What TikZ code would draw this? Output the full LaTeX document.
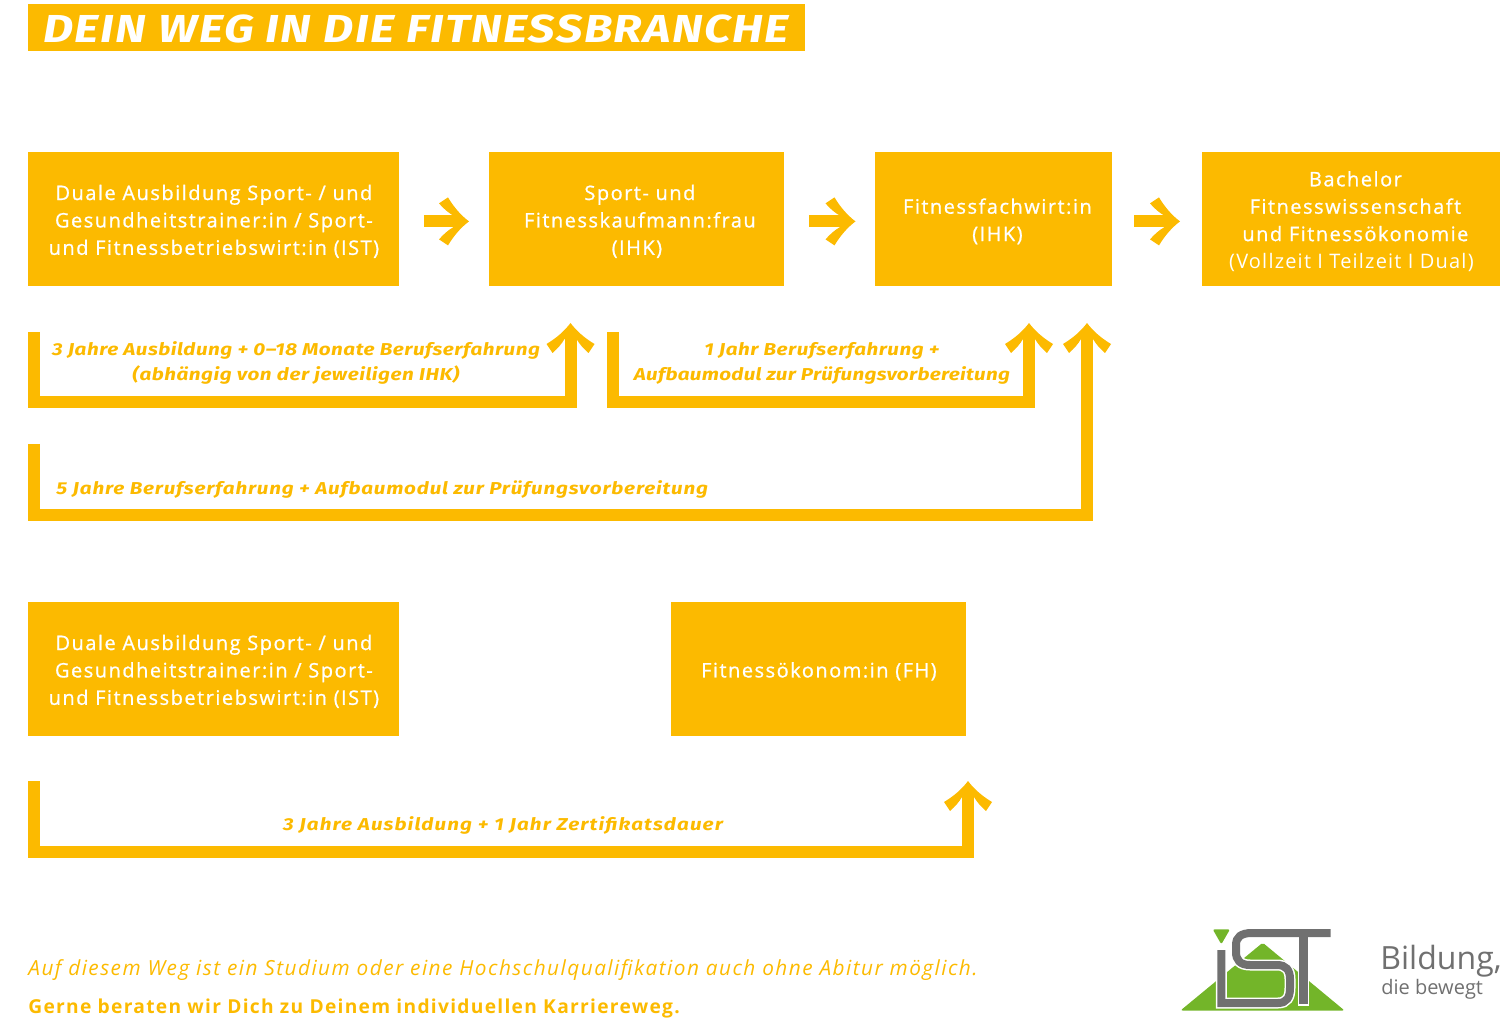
\documentclass[tikz,border=0pt]{standalone}
\usepackage{fontspec}
\setmainfont{Open Sans}
\newfontfamily\wegfont[LetterSpace=7.5,FakeBold=0.9]{Open Sans}
\newfontfamily\wegplain[LetterSpace=6]{Open Sans}
\newfontfamily\notefont[LetterSpace=7]{Open Sans}
\newfontfamily\gernefont[LetterSpace=6.7]{Open Sans}
\newfontfamily\titlefont[LetterSpace=3,FakeStretch=1.2]{Fira Sans}
\newfontfamily\headfont[LetterSpace=3.8,FakeStretch=1.2]{Fira Sans}
\newcommand{\wegtop}{\rule{0pt}{9.6pt}}
\newcommand{\labelfont}{\titlefont\bfseries\itshape\fontsize{8.6}{12.5}\selectfont}
\usetikzlibrary{arrows.meta,calc}
\definecolor{wegYellow}{RGB}{252,186,0}
\definecolor{logoGreen}{RGB}{115,181,41}
\definecolor{logoGray}{RGB}{112,112,112}
\pgfdeclarearrow{
  name=WegTip,
  setup code={
    \pgfarrowssettipend{0pt}
    \pgfarrowssetlineend{-7pt}
    \pgfarrowssetvisualbackend{-7pt}
    \pgfarrowssetbackend{-15pt}
    \pgfarrowssavethe{\pgflinewidth}
  },
  drawing code={
    \pgfpathmoveto{\pgfpoint{0pt}{0pt}}
    \pgfpathquadraticcurveto{\pgfpoint{-6pt}{4.5pt}}{\pgfpoint{-10.5pt}{12pt}}
    \pgfpathlineto{\pgfpoint{-15pt}{9pt}}
    \pgfpathquadraticcurveto{\pgfpoint{-11.5pt}{5pt}}{\pgfpoint{-8pt}{3pt}}
    \pgfpathlineto{\pgfpoint{-8pt}{-3pt}}
    \pgfpathquadraticcurveto{\pgfpoint{-11.5pt}{-5pt}}{\pgfpoint{-15pt}{-9pt}}
    \pgfpathlineto{\pgfpoint{-10.5pt}{-12pt}}
    \pgfpathquadraticcurveto{\pgfpoint{-6pt}{-4.5pt}}{\pgfpoint{0pt}{0pt}}
    \pgfpathclose
    \pgfusepathqfill
  },
  defaults={}
}
\begin{document}
\begin{tikzpicture}[x=0.5pt,y=-0.5pt]
%styles
\tikzset{
  wegbox/.style={rectangle, fill=wegYellow, text=white, font=\wegfont\fontsize{10}{13.7}\selectfont, align=center, inner sep=0pt, minimum height=67pt},
  wegline/.style={draw=wegYellow, line width=6pt, miter limit=10, -{WegTip}},
  weglabel/.style={text=wegYellow, font=\labelfont, align=center, inner sep=0pt},
  notetext/.style={text=wegYellow, anchor=base west, inner sep=0pt},
  logostroke/.style={draw=logoGray, line width=4pt}
}
\useasboundingbox (0,0) rectangle (1500,1021);
%title
\node[fill=wegYellow, text=white, anchor=north west, minimum width=388.5pt, minimum height=23.5pt, inner sep=0pt] (title) at (28,4) {};
\node[text=white, anchor=base west, inner sep=0pt, font=\headfont\bfseries\itshape\fontsize{19.5}{20}\selectfont] (titleText) at (43,43) {DEIN WEG IN DIE FITNESSBRANCHE};
%boxes
\node[wegbox, minimum width=185.5pt, anchor=north west] (ausbildung) at (28,152) {\wegtop Duale Ausbildung Sport- / und\\Gesundheitstrainer:in / Sport-\\und Fitnessbetriebswirt:in (IST)};
\node[wegbox, minimum width=147.5pt, anchor=north west] (kaufmann) at (489,152) {\wegtop\hspace*{3pt}Sport- und\\\hspace*{3pt}Fitnesskaufmann:frau\\(IHK)};
\node[wegbox, minimum width=118.5pt, anchor=north west] (fachwirt) at (874.5,152) {\wegtop\hspace*{4pt}Fitnessfachwirt:in\\\hspace*{4pt}(IHK)};
\node[wegbox, minimum width=149pt, anchor=north west] (bachelor) at (1202,152) {\wegtop\hspace*{4pt}Bachelor\\\hspace*{4pt}Fitnesswissenschaft\\\hspace*{4pt}und Fitnessökonomie\\{\wegplain (Vollzeit I Teilzeit I Dual)}};
\node[wegbox, minimum width=185.5pt, anchor=north west] (ausbildungB) at (28,602) {\wegtop Duale Ausbildung Sport- / und\\Gesundheitstrainer:in / Sport-\\und Fitnessbetriebswirt:in (IST)};
\node[wegbox, minimum width=147.5pt, anchor=north west] (oekonom) at (671,602) {\wegtop Fitnessökonom:in (FH)};
%arrows between boxes
\draw[wegline, shorten <=12pt, shorten >=10pt] ([yshift=-1pt]ausbildung.east) -- ([yshift=-1pt]kaufmann.west);
\draw[wegline, shorten <=12pt, shorten >=9.5pt] ([yshift=-1pt]kaufmann.east) -- ([yshift=-1pt]fachwirt.west);
\draw[wegline, shorten <=11pt, shorten >=11pt] ([yshift=-1pt]fachwirt.east) -- ([yshift=-1pt]bachelor.west);
%routes
\coordinate (startA) at (34,332);
\coordinate (endA) at (570.5,323);
\coordinate (startB) at (613,332);
\coordinate (endB) at (1029,323);
\coordinate (startC) at (34,444);
\coordinate (endC) at (1087,323);
\coordinate (startD) at (34,781);
\coordinate (endD) at (968,781);
\draw[wegline] (startA) -- ++(0,70.5) -| (endA);
\draw[wegline] (startB) -- ++(0,70.5) -| (endB);
\draw[wegline] (startC) -- ++(0,71) -| (endC);
\draw[wegline] (startD) -- ++(0,71) -| (endD);
%text
\node[weglabel] (labelA) at (296,362.5) {3 Jahre Ausbildung + 0–18 Monate Berufserfahrung\\(abhängig von der jeweiligen IHK)};
\node[weglabel] (labelB) at (822,363) {1 Jahr Berufserfahrung +\\{\addfontfeature{LetterSpace=1.7}Aufbaumodul zur Prüfungsvorbereitung}};
\node[weglabel, anchor=base west, font=\labelfont\addfontfeature{LetterSpace=4.6}] (labelC) at (56,494.5) {5 Jahre Berufserfahrung + Aufbaumodul zur Prüfungsvorbereitung};
\node[weglabel, font=\labelfont\addfontfeature{LetterSpace=6.4}] (labelD) at (503,825) {3 Jahre Ausbildung + 1 Jahr Zertifikatsdauer};
\node[notetext, font=\notefont\itshape\fontsize{10.4}{12}\selectfont] (noteA) at (28,975) {Auf diesem Weg ist ein Studium oder eine Hochschulqualifikation auch ohne Abitur möglich.};
\node[notetext, font=\gernefont\bfseries\fontsize{9.6}{12}\selectfont] (noteB) at (28,1013) {Gerne beraten wir Dich zu Deinem individuellen Karriereweg.};
%logo
\fill[logoGreen, rounded corners=1pt] (1212.7,929.3) -- (1230,929.3) -- (1221.3,944.3) -- cycle;
\fill[logoGreen, rounded corners=1pt] (1262.7,942.7) -- (1344.5,1010.5) -- (1180.5,1010.5) -- cycle;
\draw[white, line width=5.5pt] (1221.3,950) -- (1221.3,1003) -- (1278,1003) .. controls (1287,1003) and (1290,997) .. (1290,988) -- (1290,979) .. controls (1290,970) and (1286,965) .. (1277,965) -- (1250,965) .. controls (1240,965) and (1236,960) .. (1236,952) -- (1236,945) .. controls (1236,937) and (1241,933) .. (1252,933) -- (1330.5,933);
\draw[white, line width=5.5pt] (1303,933) -- (1303,1006);
\draw[logostroke] (1221.3,950) -- (1221.3,1003) -- (1278,1003) .. controls (1287,1003) and (1290,997) .. (1290,988) -- (1290,979) .. controls (1290,970) and (1286,965) .. (1277,965) -- (1250,965) .. controls (1240,965) and (1236,960) .. (1236,952) -- (1236,945) .. controls (1236,937) and (1241,933) .. (1252,933) -- (1330.5,933);
\draw[logostroke, line width=4.5pt] (1303,933) -- (1303,1004);
\node[text=logoGray, anchor=base west, inner sep=0pt, font=\fontsize{16}{18}\selectfont] (logoBig) at (1380,969) {Bildung,};
\node[text=logoGray, anchor=base west, inner sep=0pt, font=\fontsize{10}{12}\selectfont] (logoSmall) at (1381,994) {die bewegt};
\end{tikzpicture}
\end{document}
